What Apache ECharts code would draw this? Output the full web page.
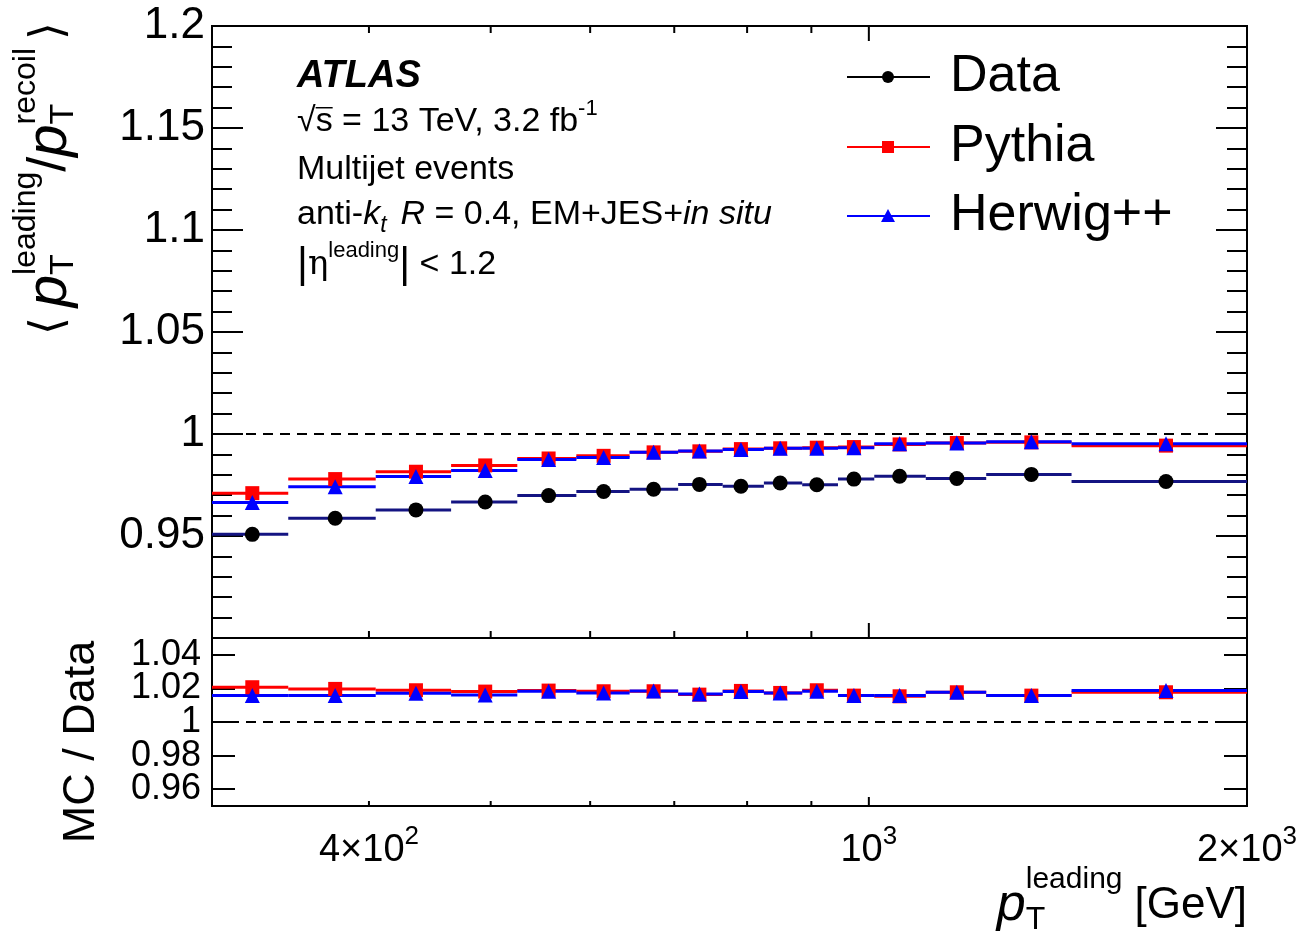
<!DOCTYPE html>
<html>
<head>
<meta charset="utf-8">
<script src="https://cdn.jsdelivr.net/npm/echarts@6/dist/echarts.min.js"></script>
<style>
  html, body { margin: 0; padding: 0; background: #fff; }
  #main { width: 1303px; height: 940px; }
</style>
</head>
<body>
<div id="main"></div>
<script>
// bins in pT leading [GeV]
var binEdges = [300, 345, 405, 465, 525, 585, 645, 705, 765, 825, 885, 945, 1010, 1110, 1240, 1450, 2000];
var binCenters = [323, 376, 436, 495, 556, 615, 674, 733, 791, 850, 909, 973, 1058, 1175, 1347, 1724];

// <pT leading / pT recoil>
var dataVals   = [0.9508, 0.9587, 0.9628, 0.9667, 0.9698, 0.9718, 0.9729, 0.9753, 0.9744, 0.9760, 0.9751, 0.9779, 0.9793, 0.9782, 0.9802, 0.9767];
var pythiaVals = [0.9710, 0.9779, 0.9815, 0.9846, 0.9880, 0.9893, 0.9910, 0.9915, 0.9926, 0.9930, 0.9933, 0.9936, 0.9949, 0.9956, 0.9959, 0.9943];
var herwigVals = [0.9664, 0.9741, 0.9792, 0.9821, 0.9875, 0.9885, 0.9910, 0.9917, 0.9924, 0.9930, 0.9930, 0.9933, 0.9952, 0.9956, 0.9962, 0.9952];

// MC / Data
var pythiaRatio = [1.0207, 1.0197, 1.0189, 1.0181, 1.0187, 1.0183, 1.0183, 1.0163, 1.0185, 1.0173, 1.0189, 1.0157, 1.0153, 1.0177, 1.0157, 1.0177];
var herwigRatio = [1.0157, 1.0157, 1.0171, 1.0161, 1.0183, 1.0173, 1.0185, 1.0167, 1.0181, 1.0173, 1.0183, 1.0157, 1.0157, 1.0177, 1.0157, 1.0187];

// x axis ticks / labels (mantissa, exponent)
var xMinorTicks = [400, 500, 600, 700, 800, 900];
var xMajorTicks = [1000];
var xLabelVals = [400, 1000, 2000];
var xLabelBase = ['4×10', '10', '2×10'];
var xLabelExp = ['2', '3', '3'];

var FONT = '"Liberation Sans", Arial, Helvetica, sans-serif';
var RED = '#ff0000', BLUE = '#0000ff', NAVY = '#141482';

var chart = echarts.init(document.getElementById('main'), null, { renderer: 'canvas' });

// text runs with sub/superscripts, laid out with measured widths
var ctx = document.createElement('canvas').getContext('2d');
function fnt(p) { return (p.it ? 'italic ' : '') + (p.b ? 'bold ' : '') + p.s + 'px ' + (p.f || FONT); }
function wid(p) { ctx.font = fnt(p); return ctx.measureText(p.t).width; }
function run(parts) {
  var x = 0, out = [];
  parts.forEach(function (p) {
    if (p.gap) { x += p.gap; return; }
    var grp = p.stack || [p];
    var w = 0;
    grp.forEach(function (q) {
      var qw = wid(q);
      out.push({ type: 'text', x: x, y: q.dy || 0,
        style: { text: q.t, font: fnt(q), fill: '#000', textAlign: 'left', textVerticalAlign: 'middle' } });
      if (q.bar) {
        out.push({ type: 'line', shape: { x1: x, y1: -q.s * 0.42, x2: x + qw, y2: -q.s * 0.42 }, style: { stroke: '#000', lineWidth: 1.5 } });
      }
      w = Math.max(w, qw);
    });
    x += w;
  });
  return { children: out, width: x };
}
function textGroup(x, y, parts, rot) {
  var r = run(parts);
  return { type: 'group', x: x, y: y, rotation: rot || 0, children: r.children };
}

// ---- series helpers ----
function steps(vals) {
  return vals.map(function (v, i) { return [binEdges[i], binEdges[i + 1], v]; });
}
function points(vals) {
  return vals.map(function (v, i) { return [binCenters[i], v]; });
}
function stepSeries(name, vals, color, xi, yi, width) {
  return {
    name: name, type: 'custom', xAxisIndex: xi, yAxisIndex: yi, clip: false, silent: true,
    encode: { x: [0, 1], y: 2 },
    data: steps(vals),
    renderItem: function (params, api) {
      var a = api.coord([api.value(0), api.value(2)]);
      var b = api.coord([api.value(1), api.value(2)]);
      return { type: 'line', shape: { x1: a[0], y1: a[1], x2: b[0], y2: b[1] },
        style: { stroke: color, lineWidth: width } };
    }
  };
}
function markerSeries(name, vals, color, symbol, size, xi, yi) {
  return {
    name: name, type: 'scatter', xAxisIndex: xi, yAxisIndex: yi, silent: true,
    symbol: symbol, symbolSize: size, itemStyle: { color: color, opacity: 1 },
    data: points(vals)
  };
}
function unityLine(xi, yi) {
  return {
    type: 'line', xAxisIndex: xi, yAxisIndex: yi, data: [], silent: true,
    markLine: { symbol: 'none', silent: true, label: { show: false },
      lineStyle: { color: '#000', width: 2, type: [10, 7] }, data: [{ yAxis: 1 }] }
  };
}
function xTicks(xi, yi, yLo, yHi, majLen, minLen, both, labels) {
  var vals = xMinorTicks.concat(xMajorTicks, labels ? xLabelVals : []);
  vals = vals.filter(function (v, i) { return vals.indexOf(v) === i; });
  return {
    type: 'custom', xAxisIndex: xi, yAxisIndex: yi, clip: false, silent: true, z: 5,
    encode: { x: 0, y: 1 },
    data: vals.map(function (v) { return [v, 1]; }),
    renderItem: function (params, api) {
      var v = api.value(0);
      var len = xMajorTicks.indexOf(v) >= 0 ? majLen : minLen;
      var b = api.coord([v, yLo]);
      var t = api.coord([v, yHi]);
      var kids = [];
      if (xMinorTicks.indexOf(v) >= 0 || xMajorTicks.indexOf(v) >= 0) {
        kids.push({ type: 'line', shape: { x1: b[0], y1: b[1], x2: b[0], y2: b[1] - len }, style: { stroke: '#000', lineWidth: 2 } });
        if (both) kids.push({ type: 'line', shape: { x1: t[0], y1: t[1], x2: t[0], y2: t[1] + len }, style: { stroke: '#000', lineWidth: 2 } });
      }
      var li = xLabelVals.indexOf(v);
      if (labels && li >= 0) {
        var lab = run([{ t: xLabelBase[li], s: 38 }, { t: xLabelExp[li], s: 26, dy: -14 }]);
        kids.push({ type: 'group', x: b[0] - lab.width / 2, y: b[1] + 45, children: lab.children });
      }
      return { type: 'group', children: kids };
    }
  };
}

// axis titles
var yTitle = run([
  { t: '⟨', s: 46, f: '"DejaVu Sans"' }, { gap: 10 },
  { t: 'p', s: 58, it: 1 },
  { stack: [{ t: 'T', s: 34, dy: 14 }, { t: 'leading', s: 32, dy: -24 }] },
  { t: '/', s: 54 },
  { t: 'p', s: 58, it: 1 },
  { stack: [{ t: 'T', s: 34, dy: 14 }, { t: 'recoil', s: 32, dy: -24 }] },
  { gap: 8 }, { t: '⟩', s: 46, f: '"DejaVu Sans"' }
]);
var xTitle = run([
  { t: 'p', s: 52, it: 1 },
  { stack: [{ t: 'T', s: 32, dy: 14 }, { t: 'leading', s: 30, dy: -26 }] },
  { gap: 12 }, { t: '[GeV]', s: 44 }
]);

// legend drawn as graphic rows
var legendRows = [
  { name: 'Data', color: '#000', shape: 'circle', y: 77 },
  { name: 'Pythia', color: RED, shape: 'rect', y: 147 },
  { name: 'Herwig++', color: BLUE, shape: 'tri', y: 216 }
];
var legendEls = [];
legendRows.forEach(function (r) {
  legendEls.push({ type: 'line', shape: { x1: 847, y1: r.y, x2: 930, y2: r.y }, style: { stroke: r.color, lineWidth: 2 } });
  if (r.shape === 'circle') legendEls.push({ type: 'circle', shape: { cx: 888, cy: r.y, r: 6 }, style: { fill: r.color } });
  if (r.shape === 'rect') legendEls.push({ type: 'rect', shape: { x: 882, y: r.y - 6, width: 12, height: 12 }, style: { fill: r.color } });
  if (r.shape === 'tri') legendEls.push({ type: 'polygon', shape: { points: [[888, r.y - 7], [895, r.y + 6], [881, r.y + 6]] }, style: { fill: r.color } });
  legendEls.push({ type: 'text', x: 950, y: r.y, style: { text: r.name, font: '52px ' + FONT, fill: '#000', textVerticalAlign: 'middle' } });
});

var yFmt = function (v) { return String(+v.toFixed(2)); };

var option = {
  animation: false,
  backgroundColor: '#fff',
  textStyle: { fontFamily: FONT, color: '#000' },
  grid: [
    { left: 212, top: 26, width: 1035, height: 612, show: true, borderColor: '#000', borderWidth: 2, backgroundColor: 'transparent', outerBoundsMode: 'none' },
    { left: 212, top: 638, width: 1035, height: 168, show: true, borderColor: '#000', borderWidth: 2, backgroundColor: 'transparent', outerBoundsMode: 'none' }
  ],
  xAxis: [0, 1].map(function (g) {
    return { type: 'log', logBase: 10, gridIndex: g, min: 300, max: 2000,
      axisLine: { show: false }, axisTick: { show: false }, axisLabel: { show: false }, splitLine: { show: false } };
  }),
  yAxis: [
    { gridIndex: 0, min: 0.9, max: 1.2, interval: 0.05,
      axisLine: { show: false }, splitLine: { show: false },
      axisTick: { inside: true, length: 31, lineStyle: { color: '#000', width: 2 } },
      minorTick: { show: true, splitNumber: 5, length: 20, lineStyle: { color: '#000', width: 2 } },
      axisLabel: { fontSize: 44, color: '#000', margin: 7, fontFamily: FONT,
        formatter: function (v) { return v < 0.91 ? '' : yFmt(v); } } },
    { gridIndex: 0, position: 'right', min: 0.9, max: 1.2, interval: 0.05,
      axisLine: { show: false }, splitLine: { show: false }, axisLabel: { show: false },
      axisTick: { inside: true, length: 31, lineStyle: { color: '#000', width: 2 } },
      minorTick: { show: true, splitNumber: 5, length: 20, lineStyle: { color: '#000', width: 2 } } },
    { gridIndex: 1, min: 0.95, max: 1.05, splitNumber: 5,
      axisLine: { show: false }, splitLine: { show: false },
      axisTick: { inside: true, length: 23, lineStyle: { color: '#000', width: 2 } },
      axisLabel: { fontSize: 36, color: '#000', margin: 11, fontFamily: FONT,
        formatter: function (v) { return (v < 0.955 || v > 1.045) ? '' : yFmt(v); } } },
    { gridIndex: 1, position: 'right', min: 0.95, max: 1.05, splitNumber: 5,
      axisLine: { show: false }, splitLine: { show: false }, axisLabel: { show: false },
      axisTick: { inside: true, length: 23, lineStyle: { color: '#000', width: 2 } } }
  ],
  series: [
    unityLine(0, 0),
    unityLine(1, 2),
    xTicks(0, 0, 0.9, 1.2, 15, 7, true, false),
    xTicks(1, 2, 0.95, 1.05, 9, 5, false, true),
    stepSeries('Pythia', pythiaVals, RED, 0, 0, 3),
    stepSeries('Herwig++', herwigVals, BLUE, 0, 0, 3),
    stepSeries('Data', dataVals, NAVY, 0, 0, 3),
    markerSeries('Pythia', pythiaVals, RED, 'rect', 14, 0, 0),
    markerSeries('Herwig++', herwigVals, BLUE, 'triangle', 15, 0, 0),
    markerSeries('Data', dataVals, '#000', 'circle', 15, 0, 0),
    stepSeries('Pythia', pythiaRatio, RED, 1, 2, 3),
    stepSeries('Herwig++', herwigRatio, BLUE, 1, 2, 3),
    markerSeries('Pythia', pythiaRatio, RED, 'rect', 14, 1, 2),
    markerSeries('Herwig++', herwigRatio, BLUE, 'triangle', 15, 1, 2)
  ],
  graphic: [
    textGroup(297, 77, [{ t: 'ATLAS', s: 38, b: 1, it: 1 }]),
    textGroup(297, 122, [{ t: '√', s: 34 }, { t: 's', s: 34, bar: 1 }, { t: ' = 13 TeV, 3.2 fb', s: 34 }, { t: '-1', s: 22, dy: -13 }]),
    textGroup(297, 170, [{ t: 'Multijet events', s: 34 }]),
    textGroup(297, 215, [{ t: 'anti-', s: 34 }, { t: 'k', s: 34, it: 1 }, { t: 't', s: 23, it: 1, dy: 11 }, { gap: 14 },
      { t: 'R', s: 34, it: 1 }, { t: ' = 0.4, EM+JES+', s: 34 }, { t: 'in situ', s: 34, it: 1 }]),
    textGroup(297, 265, [{ t: '|', s: 42 }, { t: 'η', s: 34, f: '"DejaVu Serif"' }, { t: 'leading', s: 22, dy: -14 },
      { t: '|', s: 42 }, { t: ' < 1.2', s: 34 }]),
    { type: 'group', x: 50, y: 22 + yTitle.width, rotation: Math.PI / 2, children: yTitle.children },
    { type: 'text', x: 82, y: 742, rotation: Math.PI / 2,
      style: { text: 'MC / Data', font: '45px ' + FONT, fill: '#000', textAlign: 'center', textVerticalAlign: 'middle' } },
    { type: 'group', x: 1247 - xTitle.width, y: 906, children: xTitle.children },
    { type: 'group', children: legendEls }
  ]
};

chart.setOption(option);
window.addEventListener('resize', function () { chart.resize(); });
</script>
</body>
</html>
